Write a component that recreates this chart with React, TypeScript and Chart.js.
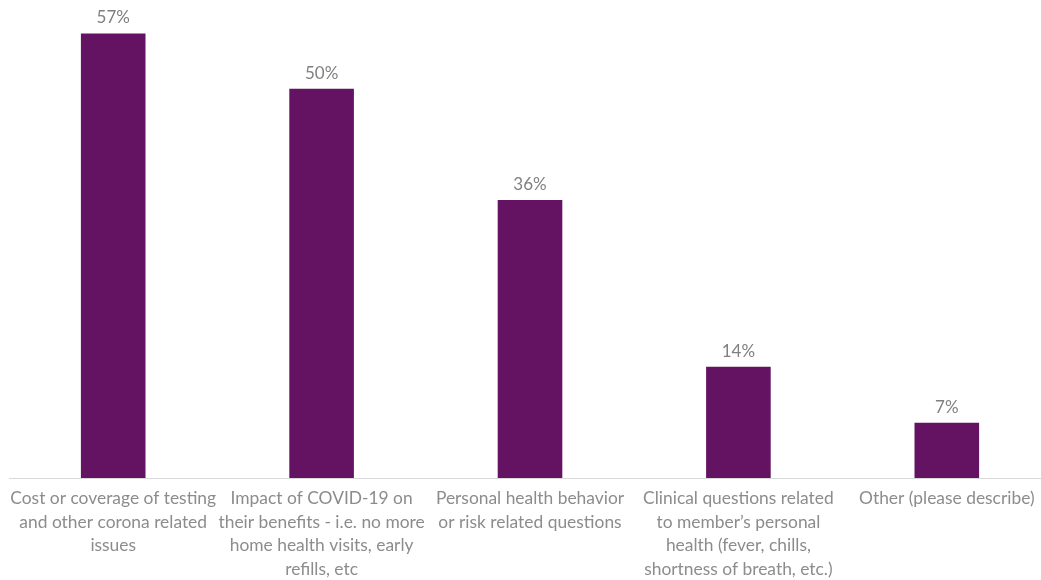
import React, { useEffect, useRef } from "react";
import { Chart, registerables } from "chart.js";

Chart.register(...registerables);

const categories: string[][] = [
  ["Cost or coverage of testing", "and other corona related", "issues"],
  ["Impact of COVID-19 on", "their benefits - i.e. no more", "home health visits, early", "refills, etc"],
  ["Personal health behavior", "or risk related questions"],
  ["Clinical questions related", "to member\u2019s personal", "health (fever, chills,", "shortness of breath, etc.)"],
  ["Other (please describe)"],
];
const values: number[] = [57.1, 50, 35.7, 14.3, 7.1];
const valueLabels: string[] = ["57%", "50%", "36%", "14%", "7%"];

const FONT = "Lato, 'Open Sans', sans-serif";

const labelPlugin = {
  id: "barLabels",
  afterDatasetsDraw(chart: any) {
    const ctx = chart.ctx;
    const meta = chart.getDatasetMeta(0);
    ctx.save();
    ctx.font = `17px ${FONT}`;
    ctx.fillStyle = "#808080";
    ctx.textAlign = "center";
    ctx.textBaseline = "bottom";
    meta.data.forEach((bar: any, i: number) => {
      ctx.fillText(valueLabels[i], bar.x, bar.y - 7);
    });
    ctx.restore();
  },
};

export default function App() {
  const ref = useRef<HTMLCanvasElement>(null);
  useEffect(() => {
    if (!ref.current) return;
    const chart = new Chart(ref.current, {
      type: "bar",
      data: {
        labels: categories,
        datasets: [
          {
            data: values,
            backgroundColor: "#641262",
            borderWidth: 0,
            barPercentage: 0.31,
            categoryPercentage: 1,
          },
        ],
      },
      options: {
        animation: false,
        responsive: false,
        maintainAspectRatio: false,
        layout: { padding: { left: 9, right: 9, top: 0, bottom: 0 } },
        plugins: { legend: { display: false }, tooltip: { enabled: false } },
        scales: {
          x: {
            grid: { display: false, drawTicks: false },
            border: { display: true, color: "#d9d9d9", width: 1 },
            ticks: {
              color: "#8c8c8c",
              font: { family: FONT, size: 17.4, lineHeight: 1.35 },
              padding: 9,
              maxRotation: 0,
              autoSkip: false,
            },
          },
          y: {
            display: false,
            min: 0,
            max: 61.4,
          },
        },
      },
      plugins: [labelPlugin],
    });
    return () => chart.destroy();
  }, []);
  return (
    <div style={{ position: "fixed", left: 0, top: 0, width: 1041, height: 580, overflow: "hidden", background: "#fff" }}>
      <canvas ref={ref} width={1060} height={590} style={{ width: 1060, height: 590, display: "block" }} />
    </div>
  );
}
